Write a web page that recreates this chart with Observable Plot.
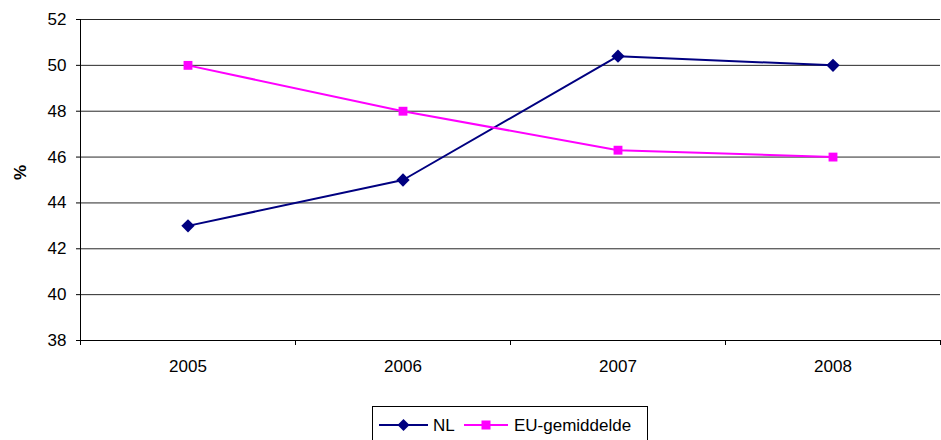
<!DOCTYPE html>
<html>
<head>
<meta charset="utf-8">
<script src="https://cdn.jsdelivr.net/npm/d3@7"></script>
<script src="https://cdn.jsdelivr.net/npm/@observablehq/plot@0.6"></script>
<style>
  html, body { margin: 0; padding: 0; background: #fff; }
  #wrap { position: relative; width: 941px; height: 440px; overflow: hidden; font-family: "Liberation Sans", Arial, sans-serif; }
  #legend { position: absolute; left: 372px; top: 406px; width: 276px; height: 40px; border: 1px solid #000; box-sizing: border-box; background: #fff; }
  #legend svg { position: absolute; left: 0; top: 0; }
</style>
</head>
<body>
<div id="wrap"><div id="chart"></div><div id="legend"></div></div>
<script>
const years = [2005, 2006, 2007, 2008];
const nlValues = [43.0, 45.0, 50.4, 50.0];
const euValues = [50.0, 48.0, 46.3, 46.0];
const yTicks = [38, 40, 42, 44, 46, 48, 50, 52];
const seriesNames = ["NL", "EU-gemiddelde"];
const seriesColors = ["#000080", "#FF00FF"];

const rows = [];
years.forEach((y, i) => {
  rows.push({year: y, value: nlValues[i], series: seriesNames[0]});
  rows.push({year: y, value: euValues[i], series: seriesNames[1]});
});
const nlRows = rows.filter(d => d.series === seriesNames[0]);
const euRows = rows.filter(d => d.series === seriesNames[1]);
const bounds = years.map(y => y - 0.5).concat([years[years.length - 1] + 0.5]);

const fs = 17;
const chart = Plot.plot({
  width: 941,
  height: 400,
  marginLeft: 80,
  marginRight: 1,
  marginTop: 19,
  marginBottom: 60,
  style: {fontFamily: "'Liberation Sans', Arial, sans-serif", color: "#000", background: "#fff"},
  x: {domain: [bounds[0], bounds[bounds.length - 1]]},
  y: {domain: [yTicks[0], yTicks[yTicks.length - 1]]},
  marks: [
    Plot.ruleY(yTicks, {stroke: "#000", strokeWidth: 1, strokeOpacity: 0.85}),
    Plot.ruleX([bounds[0]], {stroke: "#000", strokeWidth: 1}),
    Plot.ruleY([yTicks[0]], {stroke: "#000", strokeWidth: 1}),
    Plot.axisY({ticks: yTicks, tickSize: 4, tickPadding: 10, fontSize: fs, label: null, tickFormat: d => String(d)}),
    Plot.axisX({ticks: bounds, tickSize: 5, tickFormat: () => "", label: null}),
    Plot.axisX({ticks: years, tickSize: 0, tickPadding: 19, fontSize: fs, label: null, tickFormat: d => String(d)}),
    Plot.text(["%"], {frameAnchor: "left", dx: -60, rotate: -90, fontWeight: "bold", fontSize: fs}),
    Plot.line(nlRows, {x: "year", y: "value", stroke: seriesColors[0], strokeWidth: 2}),
    Plot.line(euRows, {x: "year", y: "value", stroke: seriesColors[1], strokeWidth: 2}),
    Plot.dot(nlRows, {x: "year", y: "value", symbol: "diamond2", r: 6, fill: seriesColors[0], stroke: "none"}),
    Plot.dot(euRows, {x: "year", y: "value", symbol: "square", r: 5, fill: seriesColors[1], stroke: "none"})
  ]
});
document.getElementById("chart").appendChild(chart);

// legend
const legend = d3.select("#legend").append("svg").attr("width", 276).attr("height", 40);
const items = [
  {x0: 6, x1: 55, tx: 60, sym: "diamond"},
  {x0: 91, x1: 135, tx: 141, sym: "square"}
];
items.forEach((it, i) => {
  const cy = 18;
  legend.append("line").attr("x1", it.x0).attr("x2", it.x1).attr("y1", cy).attr("y2", cy)
    .attr("stroke", seriesColors[i]).attr("stroke-width", 2);
  const cx = (it.x0 + it.x1) / 2;
  if (it.sym === "diamond") {
    legend.append("path").attr("d", `M${cx},${cy-6}L${cx+6},${cy}L${cx},${cy+6}L${cx-6},${cy}Z`).attr("fill", seriesColors[i]);
  } else {
    legend.append("rect").attr("x", cx - 4.5).attr("y", cy - 4.5).attr("width", 9).attr("height", 9).attr("fill", seriesColors[i]);
  }
  legend.append("text").attr("x", it.tx).attr("y", cy).attr("dy", "0.36em")
    .attr("font-size", fs).attr("font-family", "'Liberation Sans', Arial, sans-serif").text(seriesNames[i]);
});
</script>
</body>
</html>
